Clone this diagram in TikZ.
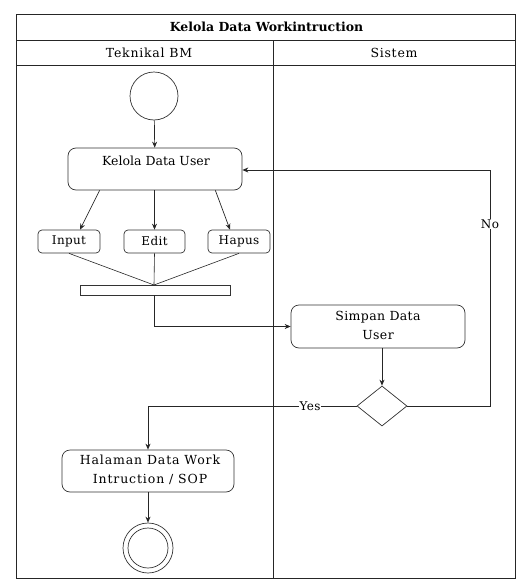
\documentclass[tikz,border=0pt]{standalone}
\usepackage{fontspec}
\setmainfont{DejaVu Serif}
\usetikzlibrary{arrows.meta,shapes.geometric}
% label text: #1 = size, #2 = letter spacing, #3 = text
\newcommand\spaced[3]{{\fontsize{#1}{#1}\selectfont\addfontfeatures{LetterSpace=#2}#3}}
\begin{document}
\begin{tikzpicture}[x=1pt,y=-1pt,
  lane/.style={draw=black!85,line width=1pt},
  act/.style={draw=black!80,line width=0.7pt,rounded corners=8pt,fill=white,inner sep=0pt},
  small/.style={draw=black!80,line width=0.7pt,rounded corners=4pt,inner sep=0pt},
  flow/.style={draw=black!85,line width=0.7pt,-{Stealth[length=6pt,width=5pt]}},
  plain/.style={draw=black!85,line width=0.6pt},
  lbl/.style={fill=white,inner sep=1pt}]
\useasboundingbox (0,0) rectangle (517,581);
% swimlane frame
\draw[lane] (16,14) rectangle (515,578);
\draw[lane] (16,40) -- (515,40);
\draw[lane] (16,65) -- (515,65);
\draw[lane] (273,40) -- (273,578);
\node (title) at (266.5,27) {\bfseries\spaced{12.5}{0}{Kelola Data Workintruction}};
\node (laneA) at (149,52.5) {\spaced{12.5}{6}{Teknikal BM}};
\node (laneB) at (394,52.5) {\spaced{12.5}{6}{Sistem}};
% activities
\node[draw=black!80,line width=0.7pt,circle,minimum size=48pt,inner sep=0pt] (start) at (154,96) {};
\node[act,minimum width=174pt,minimum height=42pt] (kelola) at (155,169) {};
\node (kelolaT) at (156,161) {\spaced{12.5}{0}{Kelola Data User}};
\node[small,minimum width=62pt,minimum height=23pt] (input) at (69,241.5) {\spaced{12}{3}{Input}};
\node[small,minimum width=61pt,minimum height=23pt] (edit) at (154.5,241.5) {\spaced{12}{3}{Edit}};
\node[small,minimum width=62pt,minimum height=23pt] (hapus) at (239,241.5) {\spaced{12}{3}{Hapus}};
\node[draw=black!80,line width=0.7pt,minimum width=150pt,minimum height=10pt,inner sep=0pt] (bar) at (155,290) {};
\coordinate (join) at (154,285);
\node[act,minimum width=174pt,minimum height=43pt] (simpan) at (378,326.5) {};
\node (simpanT) at (378,327) {\begin{tabular}{@{}c@{}}\spaced{12.5}{3}{Simpan Data}\\[6pt]\spaced{12.5}{3}{User}\end{tabular}};
\node[draw=black!80,line width=0.7pt,diamond,minimum width=50pt,minimum height=40pt,inner sep=0pt] (dec) at (382,406) {};
\node[act,minimum width=172pt,minimum height=42pt] (halaman) at (148,471) {};
\node (halamanT) at (150,471) {\begin{tabular}{@{}c@{}}\spaced{12.5}{7}{Halaman Data Work}\\[7pt]\spaced{12.5}{7}{Intruction / SOP}\end{tabular}};
\node[draw=black!80,line width=0.7pt,circle,minimum size=50pt,inner sep=0pt] (end) at (148,548) {};
\node[draw=black!80,line width=0.7pt,circle,minimum size=40pt,inner sep=0pt] (endin) at (148,548) {};
% connectors
\draw[flow] (start) -- (kelola);
\draw[flow] ([xshift=32pt]kelola.south west) -- ([xshift=11pt]input.north);
\draw[flow] (kelola.south -| edit.north) -- (edit.north);
\draw[flow] ([xshift=-27pt]kelola.south east) -- ([xshift=-9pt]hapus.north);
\draw[plain] (input.south) -- (join);
\draw[plain] (edit.south) -- (join);
\draw[plain] (hapus.south) -- (join);
\draw[flow] (bar.south -| join) |- (simpan.west);
\draw[flow] (simpan.south -| dec.north) -- (dec.north);
\draw[flow] (dec.east) -| (490,170) -- (kelola.east |- 0,170);
\node[lbl] (no) at (490,224) {\spaced{12}{3}{No}};
\draw[flow] (dec.west) -| (halaman.north);
\node[lbl] (yes) at (310,406) {\spaced{12}{3}{Yes}};
\draw[flow] (halaman) -- (end);
\end{tikzpicture}
\end{document}
